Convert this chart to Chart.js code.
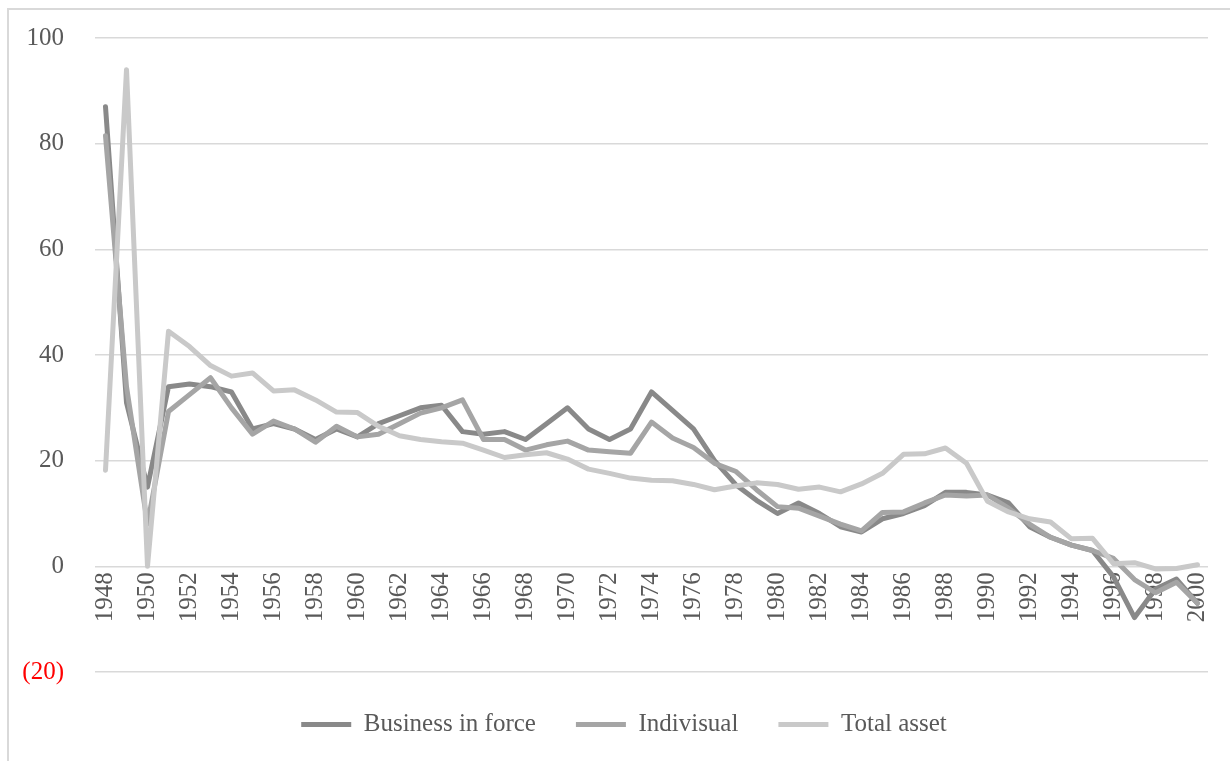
<!DOCTYPE html>
<html>
<head>
<meta charset="utf-8">
<script src="https://cdn.jsdelivr.net/npm/chart.js@4.4.1/dist/chart.umd.min.js"></script>
<style>
  html, body { margin: 0; padding: 0; background: #fff; }
  #wrap { position: relative; width: 1230px; height: 761px; }
  #frame { position: absolute; left: 7px; top: 8px; right: 0; bottom: 0;
           border-top: 2px solid #d9d9d9; border-left: 2px solid #d9d9d9; }
  #growth { position: absolute; left: 0; top: 0; }
</style>
</head>
<body>
<div id="wrap">
  <div id="frame"></div>
  <canvas id="growth" width="1230" height="761"></canvas>
</div>
<script>
// growth rates by year, 1948-2000
const years = [];
for (let y = 1948; y <= 2000; y++) years.push(String(y));

const businessInForce = [
  87, 31, 15, 34, 34.5, 34, 33, 26, 27, 26,
  24, 26, 24.5, 27, 28.5, 30, 30.5, 25.5, 25, 25.5,
  24, 27, 30, 26, 24, 26, 33, 29.5, 26, 20,
  15.5, 12.5, 10, 12, 10, 7.5, 6.5, 9, 10, 11.5,
  14, 14, 13.5, 12, 7.5, 5.5, 4, 3, -2, -9.7,
  -4.3, -2.4, -7
];
const individual = [
  81.5, 34, 8, 29.3, 32.5, 35.7, 30, 25, 27.5, 26,
  23.5, 26.5, 24.5, 25, 27, 29, 30, 31.5, 24, 24,
  22, 23, 23.7, 22, 21.7, 21.4, 27.3, 24.3, 22.5, 19.5,
  18, 14.5, 11.3, 11, 9.5, 8, 6.7, 10.2, 10.3, 12,
  13.5, 13.3, 13.5, 11, 8, 5.5, 4, 3, 1.5, -2.5,
  -5, -3, -7
];
const totalAsset = [
  18.2, 94, 0, 44.5, 41.6, 38, 36, 36.6, 33.2, 33.4,
  31.5, 29.2, 29.1, 26.5, 24.7, 24, 23.6, 23.3, 22, 20.6,
  21.1, 21.5, 20.3, 18.4, 17.6, 16.7, 16.3, 16.2, 15.5, 14.5,
  15.2, 15.8, 15.5, 14.6, 15, 14.1, 15.6, 17.6, 21.2, 21.3,
  22.4, 19.5, 12.3, 10.3, 9, 8.4, 5.2, 5.3, 0.5, 0.7,
  -0.5, -0.4, 0.3
];

const seriesNames = ['Business in force', 'Indivisual', 'Total asset'];
const seriesColors = ['#898989', '#a5a5a5', '#c9c9c9'];

const textColor = '#595959';
const serif = '"Liberation Serif", "DejaVu Serif", serif';

const lineSet = (i, data) => ({
  label: seriesNames[i],
  data: data,
  borderColor: seriesColors[i],
  backgroundColor: seriesColors[i],
  borderWidth: 5,
  borderCapStyle: 'round',
  borderJoinStyle: 'round',
  pointRadius: 0,
  tension: 0,
  order: 2 - i
});

// move the legend a little to the right of the canvas centre
const legendNudge = {
  id: 'legendNudge',
  afterLayout(chart) {
    chart.legend.left += 20;
    chart.legend.right += 20;
  }
};

new Chart(document.getElementById('growth'), {
  type: 'line',
  data: {
    labels: years,
    datasets: [
      lineSet(0, businessInForce),
      lineSet(1, individual),
      lineSet(2, totalAsset)
    ]
  },
  plugins: [legendNudge],
  options: {
    responsive: false,
    animation: false,
    layout: { padding: { left: 0, right: 22, top: 38, bottom: 14 } },
    plugins: {
      tooltip: { enabled: false },
      legend: {
        position: 'bottom',
        labels: {
          sort: (a, b) => a.datasetIndex - b.datasetIndex,
          usePointStyle: true,
          pointStyle: 'line',
          pointStyleWidth: 50,
          boxHeight: 5,
          padding: 40,
          color: textColor,
          font: { family: serif, size: 25 }
        }
      }
    },
    scales: {
      x: {
        position: { y: 0 },
        offset: true,
        grid: { display: false },
        border: { display: false },
        ticks: {
          autoSkip: false,
          minRotation: 90,
          maxRotation: 90,
          padding: -2,
          color: textColor,
          font: { family: serif, size: 25 },
          callback: (v, i) => (i % 2 === 0 ? years[i] : '')
        }
      },
      y: {
        min: -20,
        max: 100,
        afterFit: (scale) => {
          scale.width = 95;
          scale.paddingTop = 12;
          scale.paddingBottom = 12;
        },
        grid: { color: '#d9d9d9', lineWidth: 1.5, drawTicks: false },
        border: { display: false },
        ticks: {
          stepSize: 20,
          padding: 31,
          color: (ctx) => (ctx.tick.value < 0 ? '#ff0000' : textColor),
          font: { family: serif, size: 25 },
          callback: (v) => (v < 0 ? '(' + Math.abs(v) + ')' : v)
        }
      }
    }
  }
});
</script>
</body>
</html>
